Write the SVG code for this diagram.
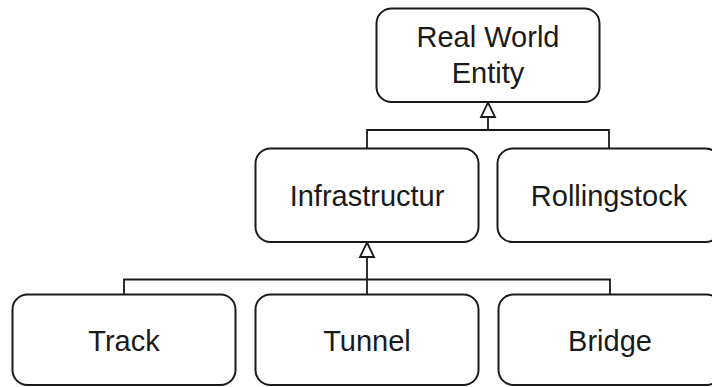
<svg xmlns="http://www.w3.org/2000/svg" width="712" height="387" viewBox="0 0 712 387">
  <style>
    .node rect { fill: #ffffff; stroke: #1a1a1a; stroke-width: 2; }
    .node text { font-family: "Liberation Sans", Arial, sans-serif; font-size: 29px; fill: #1a1a1a; text-anchor: middle; }
    .edge { fill: none; stroke: #1a1a1a; stroke-width: 1.8; }
    .head { fill: #ffffff; stroke: #1a1a1a; stroke-width: 1.8; stroke-linejoin: miter; }
  </style>
  <rect width="712" height="387" fill="#ffffff"/>

  <!-- generalization connectors -->
  <g id="connectors">
    <path class="edge" d="M367 148 V130 H609 V148"/>
    <path class="edge" d="M488 130 V117"/>
    <path class="head" d="M488 102.5 L495 117 L481 117 Z"/>
    <path class="edge" d="M124 294 V279.5 H610 V294"/>
    <path class="edge" d="M367 294 V257"/>
    <path class="head" d="M367 242.5 L374 257 L360 257 Z"/>
  </g>

  <g id="real-world-entity" class="node">
    <rect x="376.5" y="8.5" width="223" height="93.5" rx="15"/>
    <text x="488" y="47">Real World</text>
    <text x="488" y="83">Entity</text>
  </g>
  <g id="infrastructur" class="node">
    <rect x="255.5" y="148.5" width="223" height="93.5" rx="15"/>
    <text x="367" y="206">Infrastructur</text>
  </g>
  <g id="rollingstock" class="node">
    <rect x="497.5" y="148.5" width="223" height="93.5" rx="15"/>
    <text x="609" y="206">Rollingstock</text>
  </g>
  <g id="track" class="node">
    <rect x="12.5" y="294.5" width="223" height="90.5" rx="15"/>
    <text x="124" y="351">Track</text>
  </g>
  <g id="tunnel" class="node">
    <rect x="255.5" y="294.5" width="223" height="90.5" rx="15"/>
    <text x="367" y="351">Tunnel</text>
  </g>
  <g id="bridge" class="node">
    <rect x="498.5" y="294.5" width="223" height="90.5" rx="15"/>
    <text x="610" y="351">Bridge</text>
  </g>
</svg>
